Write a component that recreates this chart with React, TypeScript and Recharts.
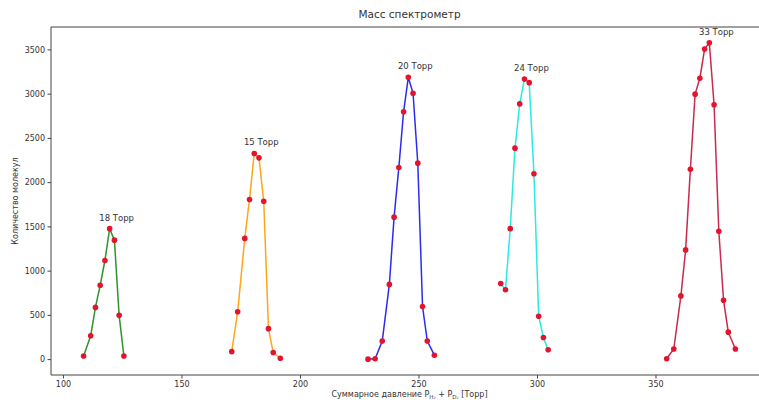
import { LineChart, Line, XAxis, YAxis, ReferenceLine, LabelList } from "recharts"

// pressure labels
const peakNames = ["18 Торр", "15 Торр", "20 Торр", "24 Торр", "33 Торр"]

// summed pressure (x) and molecule count (y) for each run
const x18 = [108.5, 111.5, 113.5, 115.5, 117.5, 119.5, 121.5, 123.5, 125.5]
const y18 = [40, 270, 590, 840, 1120, 1480, 1350, 500, 40]

const x15 = [171, 173.5, 176.5, 178.5, 180.5, 182.5, 184.5, 186.5, 188.5, 191.5]
const y15 = [90, 540, 1370, 1810, 2330, 2280, 1790, 350, 80, 15]

const x20 = [228.5, 231.5, 234.5, 237.5, 239.5, 241.5, 243.5, 245.5, 247.5, 249.5, 251.5, 253.5, 256.5]
const y20 = [5, 10, 210, 850, 1610, 2170, 2800, 3190, 3010, 2220, 600, 210, 50]

const x24 = [284.5, 286.5, 288.5, 290.5, 292.5, 294.5, 296.5, 298.5, 300.5, 302.5, 304.5]
const y24 = [860, 790, 1480, 2390, 2890, 3170, 3130, 2100, 490, 250, 110]

const x33 = [354.5, 357.5, 360.5, 362.5, 364.5, 366.5, 368.5, 370.5, 372.5, 374.5, 376.5, 378.5, 380.5, 383.5]
const y33 = [10, 120, 720, 1240, 2150, 3000, 3180, 3510, 3580, 2880, 1450, 670, 310, 120]

const xTicks = [100, 150, 200, 250, 300, 350]
const yTicks = [0, 500, 1000, 1500, 2000, 2500, 3000, 3500]
const xDomain = [94.75, 397.25]
const yDomain = [-174, 3759]

const W = 768
const H = 403
const LEFT = 51
const TOP = 27
const BOTTOM = 28
const FONT = "DejaVu Sans, sans-serif"
const INK = "#333"

const series = [
  { name: peakNames[0], xs: x18, ys: y18, color: "#2f932f" },
  { name: peakNames[1], xs: x15, ys: y15, color: "#ffa51a" },
  { name: peakNames[2], xs: x20, ys: y20, color: "#2b2bf2" },
  { name: peakNames[3], xs: x24, ys: y24, color: "#2ee8e2" },
  { name: peakNames[4], xs: x33, ys: y33, color: "#c92a4e" },
]

function peakLabel(name: string, peak: number) {
  return (p: any) => {
    if (p.index !== peak) return null
    return (
      <text
        x={Number(p.x) + 7}
        y={Number(p.y) - 11}
        textAnchor="middle"
        dominantBaseline="central"
        fontSize={8.5}
        fill={INK}
        fontFamily={FONT}
      >
        {name}
      </text>
    )
  }
}

export default function App() {
  const plotMid = (LEFT + W) / 2
  const yMid = TOP + (H - BOTTOM - TOP) / 2
  return (
    <div style={{ position: "absolute", left: 0, top: 0, width: 759, height: 403, overflow: "hidden", background: "#fff" }}>
      <LineChart width={W} height={H} margin={{ top: TOP, right: 0, bottom: 0, left: 0 }}>
        <XAxis
          dataKey="x"
          type="number"
          domain={xDomain}
          ticks={xTicks}
          allowDataOverflow
          height={BOTTOM}
          tickSize={3.5}
          tickMargin={3}
          stroke="#444"
          tick={{ fontSize: 8, fill: INK, fontFamily: FONT }}
        />
        <YAxis
          type="number"
          domain={yDomain}
          ticks={yTicks}
          allowDataOverflow
          width={LEFT}
          tickSize={3.5}
          tickMargin={2.5}
          stroke="#444"
          tick={{ fontSize: 8, fill: INK, fontFamily: FONT }}
        />
        <ReferenceLine y={yDomain[1]} stroke="#444" />
        {series.map((s) => {
          const data = s.xs.map((x, i) => ({ x, y: s.ys[i] }))
          const peak = s.ys.indexOf(Math.max(...s.ys))
          return (
            <Line
              key={s.name}
              data={data}
              dataKey="y"
              type="linear"
              stroke={s.color}
              strokeWidth={1.5}
              dot={{ r: 2.8, fill: "#e3142c", stroke: "none" }}
              isAnimationActive={false}
            >
              <LabelList dataKey="y" content={peakLabel(s.name, peak)} />
            </Line>
          )
        })}
        <text x={plotMid} y={18} textAnchor="middle" fontSize={10.5} fill={INK} fontFamily={FONT}>
          Масс спектрометр
        </text>
        <text
          x={15}
          y={yMid}
          transform={`rotate(-90 15 ${yMid})`}
          textAnchor="middle"
          dominantBaseline="central"
          fontSize={8}
          fill={INK}
          fontFamily={FONT}
        >
          Количество молекул
        </text>
        <text x={plotMid} y={397} textAnchor="middle" fontSize={8} fill={INK} fontFamily={FONT}>
          <tspan>Суммарное давление P</tspan>
          <tspan dy={2} fontSize={5.5}>H₂</tspan>
          <tspan dy={-2}> + P</tspan>
          <tspan dy={2} fontSize={5.5}>D₂</tspan>
          <tspan dy={-2}> [Торр]</tspan>
        </text>
      </LineChart>
    </div>
  )
}
